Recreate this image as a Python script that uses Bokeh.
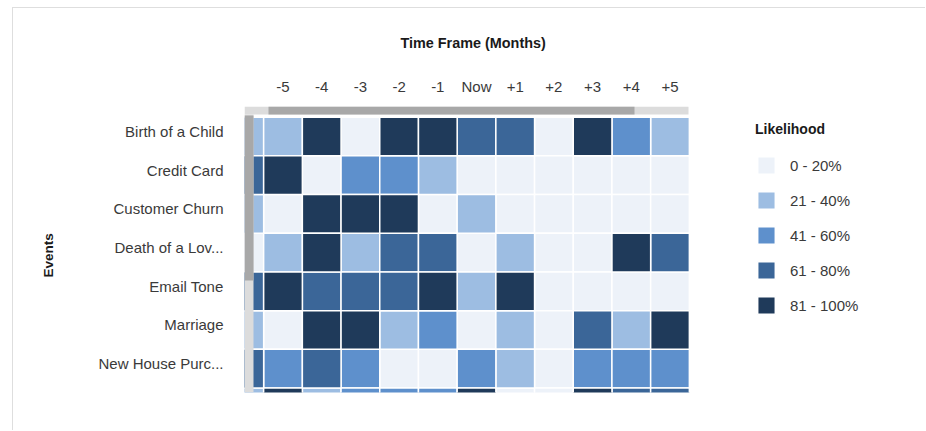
from bokeh.plotting import figure
from bokeh.models import (Range1d, FixedTicker, Legend, LegendItem, Title)
from bokeh.embed import file_html
from bokeh.resources import INLINE

# ---- data ----
time_labels = ["-6", "-5", "-4", "-3", "-2", "-1", "Now", "+1", "+2", "+3", "+4", "+5"]
events = ["Birth of a Child", "Credit Card", "Customer Churn", "Death of a Lov...",
          "Email Tone", "Marriage", "New House Purc...", "Retirement"]

# likelihood level (1..5) per time frame, one list per event
birth_of_a_child = [2, 2, 5, 1, 5, 5, 4, 4, 1, 5, 3, 2]
credit_card      = [4, 5, 1, 3, 3, 2, 1, 1, 1, 1, 1, 1]
customer_churn   = [2, 1, 5, 5, 5, 1, 2, 1, 1, 1, 1, 1]
death_of_a_loved = [1, 2, 5, 2, 4, 4, 1, 2, 1, 1, 5, 4]
email_tone       = [4, 5, 4, 4, 4, 5, 2, 5, 1, 1, 1, 1]
marriage         = [2, 1, 5, 5, 2, 3, 1, 2, 1, 4, 2, 5]
new_house        = [4, 3, 4, 3, 1, 1, 3, 2, 1, 3, 3, 3]
retirement       = [2, 5, 2, 3, 3, 3, 5, 1, 1, 5, 4, 4]

level_labels = ["0 - 20%", "21 - 40%", "41 - 60%", "61 - 80%", "81 - 100%"]
level_colors = ["#edf2f9", "#9dbde2", "#5e90cc", "#3b6698", "#1f3a5a"]

rows = [birth_of_a_child, credit_card, customer_churn, death_of_a_loved,
        email_tone, marriage, new_house, retirement]

# ---- figure ----
FONT = "Liberation Sans"
CELL = 38.7          # px per cell
FW, FH = 671, 286    # frame size in px
x0 = -5.995
y0 = -0.775
p = figure(width=925, height=423,
           x_range=Range1d(x0, x0 + FW / CELL), y_range=Range1d(y0 + FH / CELL, y0),
           x_axis_location="above", output_backend="svg", toolbar_location=None,
           min_border_left=244, min_border_right=10, min_border_top=99, min_border_bottom=38)
p.margin = (7, 0, 0, 0)
p.outline_line_color = None
p.border_fill_color = None
p.xgrid.visible = False
p.ygrid.visible = False
# card outline (top and left edges)
p.styles = {"background": "linear-gradient(#dedede, #dedede) 12px 0px / 1px 100% no-repeat, "
                          "linear-gradient(#dedede, #dedede) 12px 0px / calc(100% - 12px) 1px no-repeat"}

p.title.text = "Time Frame (Months)"
p.title.align = "left"
p.title.offset = 156
p.title.standoff = 47
p.title.text_font = FONT
p.title.text_font_size = "14.4px"
p.title.text_font_style = "bold"
p.title.text_color = "#1a1a1a"

ev_title = Title(text="Events", align="left", vertical_align="top", offset=115, standoff=76,
                 text_font=FONT, text_font_size="13.5px", text_font_style="bold", text_color="#1a1a1a")
p.add_layout(ev_title, "left")

x_of = [i - 6 for i in range(len(time_labels))]
y_tick = [j - 0.13 for j in range(len(events))]

p.xaxis.ticker = FixedTicker(ticks=[float(v) for v in x_of])
p.xaxis.major_label_overrides = {float(v): lab for v, lab in zip(x_of, time_labels)}
p.yaxis.ticker = FixedTicker(ticks=y_tick)
p.yaxis.major_label_overrides = {v: lab for v, lab in zip(y_tick, events)}
for ax in (p.xaxis[0], p.yaxis[0]):
    ax.axis_line_color = None
    ax.major_tick_line_color = None
    ax.minor_tick_line_color = None
    ax.major_label_text_font = FONT
    ax.major_label_text_font_size = "15px"
    ax.major_label_text_color = "#3a3a3a"
p.xaxis.major_label_standoff = 6
p.yaxis.major_label_standoff = 15

# heatmap cells, one renderer per likelihood level
renderers = []
for k, (lab, col) in enumerate(zip(level_labels, level_colors), start=1):
    xs, ys = [], []
    for j, row in enumerate(rows):
        for i, v in enumerate(row):
            if v == k:
                xs.append(x_of[i])
                ys.append(j)
    r = p.rect(x=xs, y=ys, width=1, height=1, fill_color=col,
               line_color="white", line_width=1.5)
    renderers.append(r)

# scrollbars (frame pixel coordinates)
p.extra_x_ranges = {"px": Range1d(0, FW)}
p.extra_y_ranges = {"py": Range1d(FH, 0)}
p.quad(left=[0, 24, 0, 0], right=[444, 390, 9, 9], top=[0, 0, 8, 9], bottom=[8, 8, 286, 174],
       fill_color=["#dcdcdc", "#a8a8a8", "#dcdcdc", "#a8a8a8"], line_color=None,
       x_range_name="px", y_range_name="py")

legend = Legend(items=[LegendItem(label=lab, renderers=[r]) for lab, r in zip(level_labels, renderers)],
                location=(511, 76), title="Likelihood",
                title_text_font=FONT, title_text_font_size="14px", title_text_font_style="bold",
                title_text_color="#1a1a1a", title_standoff=17,
                label_text_font=FONT, label_text_font_size="15px", label_text_color="#3a3a3a",
                glyph_width=22, glyph_height=22, label_height=22, spacing=13, label_standoff=13,
                padding=0, margin=0, border_line_color=None, background_fill_alpha=0)
p.add_layout(legend)

open("out.html", "w").write(file_html(p, INLINE))
